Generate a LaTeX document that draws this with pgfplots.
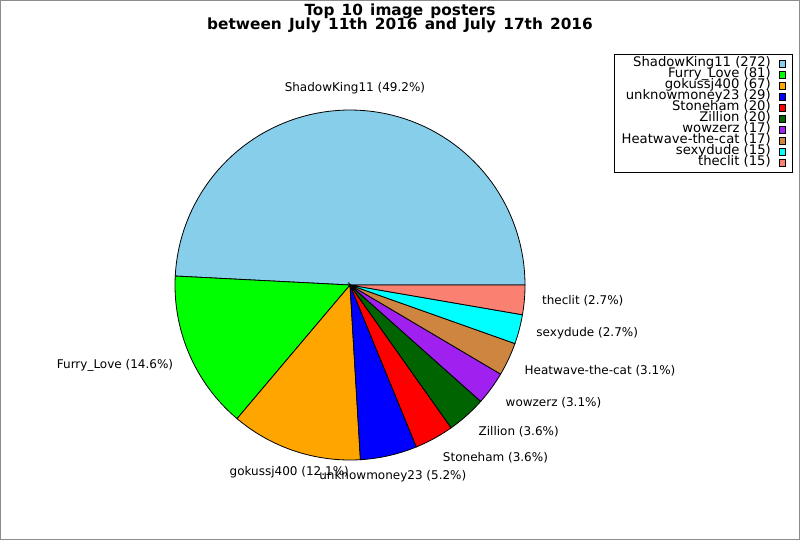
\documentclass[border=0pt]{standalone}
\usepackage{pgfplots}
\pgfplotsset{compat=1.18}
\usepackage{fontspec}
\setmainfont{DejaVu Sans}
\newfontfamily\titlefont[WordSpace=1.35]{DejaVu Sans}
\definecolor{cSky}{RGB}{135,206,235}
\definecolor{cLime}{RGB}{0,255,0}
\definecolor{cOrange}{RGB}{255,165,0}
\definecolor{cBlue}{RGB}{0,0,255}
\definecolor{cRed}{RGB}{255,0,0}
\definecolor{cDGreen}{RGB}{0,100,0}
\definecolor{cPurple}{RGB}{160,32,240}
\definecolor{cPeru}{RGB}{205,133,63}
\definecolor{cCyan}{RGB}{0,255,255}
\definecolor{cSalmon}{RGB}{250,128,114}
% counts per poster
\def\nA{272}\def\nB{81}\def\nC{67}\def\nD{29}\def\nE{20}
\def\nF{20}\def\nG{17}\def\nH{17}\def\nI{15}\def\nJ{15}
\pgfmathsetmacro\total{\nA+\nB+\nC+\nD+\nE+\nF+\nG+\nH+\nI+\nJ}
\pgfmathsetmacro\bA{0}
\pgfmathsetmacro\bB{\bA+\nA/\total*360}
\pgfmathsetmacro\bC{\bB+\nB/\total*360}
\pgfmathsetmacro\bD{\bC+\nC/\total*360}
\pgfmathsetmacro\bE{\bD+\nD/\total*360}
\pgfmathsetmacro\bF{\bE+\nE/\total*360}
\pgfmathsetmacro\bG{\bF+\nF/\total*360}
\pgfmathsetmacro\bH{\bG+\nG/\total*360}
\pgfmathsetmacro\bI{\bH+\nH/\total*360}
\pgfmathsetmacro\bJ{\bI+\nI/\total*360}
\pgfmathsetmacro\bK{360}
\newcommand\slice[4]{%
  \addplot[draw=black, line width=0.6bp, fill=#3, domain=#1:#2, samples=80, variable=\t]
    ({cos(\t)},{sin(\t)}) -- (axis cs:0,0) -- cycle;
  \addlegendentry{#4}}
\newcommand\plabel[5]{% start end anchor yshift text
  \node[anchor=#3, inner sep=0pt, yshift=#4, font=\fontsize{9bp}{10bp}\selectfont]
    at (axis cs:{1.1*cos((#1+#2)/2)},{1.1*sin((#1+#2)/2)}) {#5};}
\begin{document}
\begin{tikzpicture}
\path[use as bounding box] (0,0) rectangle (600bp,405bp);
\draw[black!45, line width=0.75bp] (0.375bp,0.375bp) rectangle (599.625bp,404.625bp);
\node[anchor=base, font=\titlefont\fontsize{11.5bp}{12bp}\selectfont\bfseries] at (300bp,393.6bp) {Top 10 image posters};
\node[anchor=base, font=\titlefont\fontsize{11.5bp}{12bp}\selectfont\bfseries] at (300bp,383.2bp) {between July 11th 2016 and July 17th 2016};
\begin{axis}[
  at={(0bp,0bp)}, anchor=south west,
  x=131.25bp, y=131.25bp,
  xmin=-2, xmax=2.5714, ymin=-1.4571, ymax=1.6286,
  hide axis, clip=false,
  legend plot pos=right,
  legend cell align=right,
  legend image code/.code={\draw[#1, line width=0.6bp] (0bp,-2.6bp) rectangle (4.5bp,2.6bp);},
  legend style={at={(axis cs:2.531,1.320)}, anchor=north east,
    draw=black, line width=0.6bp, fill=white,
    inner xsep=5bp, inner ysep=3bp,
    font=\fontsize{9.9bp}{10bp}\selectfont,
    nodes={inner sep=0.5bp, text height=5.8bp, text depth=1.45bp},
    row sep=0pt, column sep=5.7bp},
]
\slice{\bA}{\bB}{cSky}{ShadowKing11 (272)}
\slice{\bB}{\bC}{cLime}{Furry\_Love (81)}
\slice{\bC}{\bD}{cOrange}{gokussj400 (67)}
\slice{\bD}{\bE}{cBlue}{unknowmoney23 (29)}
\slice{\bE}{\bF}{cRed}{Stoneham (20)}
\slice{\bF}{\bG}{cDGreen}{Zillion (20)}
\slice{\bG}{\bH}{cPurple}{wowzerz (17)}
\slice{\bH}{\bI}{cPeru}{Heatwave-the-cat (17)}
\slice{\bI}{\bJ}{cCyan}{sexydude (15)}
\slice{\bJ}{\bK}{cSalmon}{theclit (15)}
\plabel{\bA}{\bB}{center}{3bp}{ShadowKing11 (49.2\%)}
\plabel{\bB}{\bC}{east}{-3bp}{Furry\_Love (14.6\%)}
\plabel{\bC}{\bD}{center}{-3.6bp}{gokussj400 (12.1\%)}
\plabel{\bD}{\bE}{center}{-3bp}{unknowmoney23 (5.2\%)}
\plabel{\bE}{\bF}{west}{-3bp}{Stoneham (3.6\%)}
\plabel{\bF}{\bG}{west}{-2.6bp}{Zillion (3.6\%)}
\plabel{\bG}{\bH}{west}{-3bp}{wowzerz (3.1\%)}
\plabel{\bH}{\bI}{west}{-3.4bp}{Heatwave-the-cat (3.1\%)}
\plabel{\bI}{\bJ}{west}{0.75bp}{sexydude (2.7\%)}
\plabel{\bJ}{\bK}{west}{0.4bp}{theclit (2.7\%)}
\end{axis}
\end{tikzpicture}
\end{document}
